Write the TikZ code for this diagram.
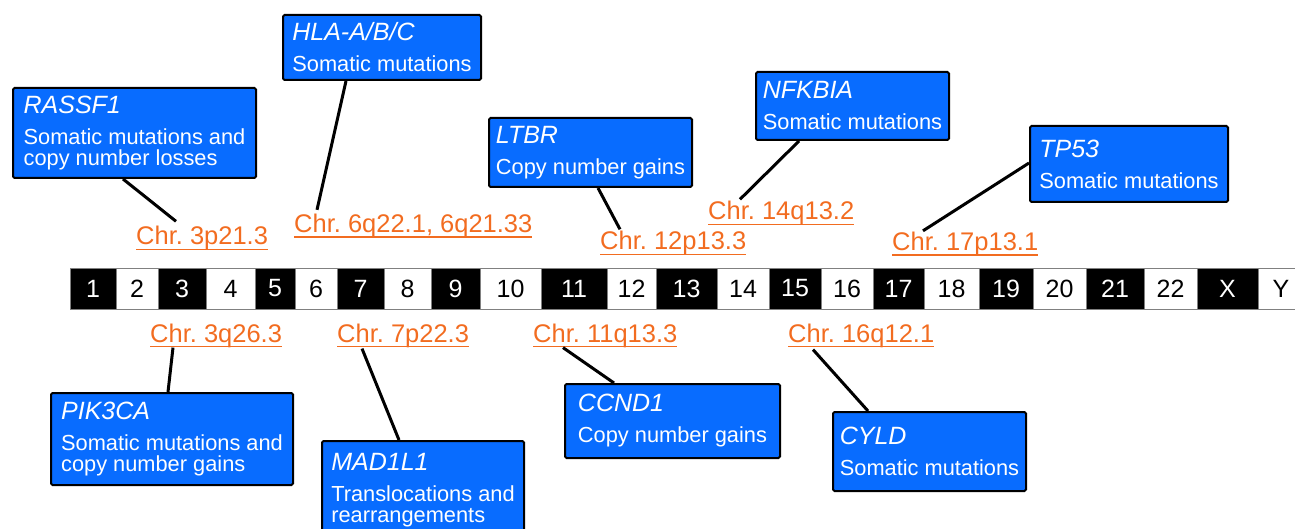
\documentclass[tikz,border=0pt]{standalone}
\usepackage{fontspec}
\setmainfont{Liberation Sans}
\usetikzlibrary{calc}

\definecolor{boxblue}{RGB}{8,108,255}
\definecolor{locorange}{RGB}{242,108,32}
\newcommand{\gene}[1]{{\fontsize{25}{20.7}\selectfont\itshape #1}}
\newsavebox{\ulocbox}
\newcommand{\uloc}[1]{\sbox{\ulocbox}{#1}\rlap{\rule[-5.4pt]{\wd\ulocbox}{1.8pt}}\usebox{\ulocbox}}

\begin{document}
\begin{tikzpicture}[x=1pt,y=-1pt,
  genebox/.style={draw=black,line width=2pt,rounded corners=1.5pt,fill=boxblue,text=white,
    anchor=north west,align=left,inner sep=0pt,font=\fontsize{21.8}{20.7}\selectfont},
  locus/.style={text=locorange,anchor=base west,inner sep=0pt,font=\fontsize{25.5}{30}\selectfont},
  band/.style={draw=gray,line width=0.8pt,minimum height=41pt,inner sep=0pt,font=\fontsize{25}{30}\selectfont},
  link/.style={line width=3pt}]
\useasboundingbox (0,0) rectangle (1295,529);

% chromosome bar
\foreach \l/\r/\lab/\bg/\fg in {70/116/1/black/white, 116/158/2/white/black, 158/206/3/black/white,
  206/255/4/white/black, 255/295/5/black/white, 295/337/6/white/black, 337/384/7/black/white,
  384/431/8/white/black, 431/480/9/black/white, 480/541/10/white/black, 541/607/11/black/white,
  607/656/12/white/black, 656/717/13/black/white, 717/769/14/white/black, 769/821/15/black/white,
  821/873/16/white/black, 873/924/17/black/white, 924/979/18/white/black, 979/1033/19/black/white,
  1033/1086/20/white/black, 1086/1144/21/black/white, 1144/1197/22/white/black,
  1197/1258/X/black/white, 1258/1304/Y/white/black} {
  \node[band,fill=\bg,text=\fg,minimum width={(\r-\l)*1pt}] (band\lab) at ({(\l+\r)/2},288.5) {\lab};
}

% loci above and below the bar
\node[locus] (c3p) at (136,245) {\uloc{Chr.\ 3p21.3}};
\node[locus] (c6q) at (294,232.5) {\uloc{Chr.\ 6q22.1, 6q21.33}};
\node[locus] (c12p) at (600,250) {\uloc{Chr.\ 12p13.3}};
\node[locus] (c14q) at (708,220) {\uloc{Chr.\ 14q13.2}};
\node[locus] (c17p) at (892,250.5) {\uloc{Chr.\ 17p13.1}};
\node[locus] (c3q) at (150,342) {\uloc{Chr.\ 3q26.3}};
\node[locus] (c7p) at (337,342) {\uloc{Chr.\ 7p22.3}};
\node[locus] (c11q) at (533,342) {\uloc{Chr.\ 11q13.3}};
\node[locus] (c16q) at (788,342) {\uloc{Chr.\ 16q12.1}};

% gene boxes
\node[genebox,minimum width=243pt,minimum height=90pt] (rassf1) at (12,87)
  {\gene{RASSF1}\\[10.3pt]Somatic mutations and\\copy number losses};
\node[genebox,minimum width=198pt,minimum height=65pt] (hla) at (282,14)
  {\gene{HLA-A/B/C}\\[10.3pt]Somatic mutations};
\node[genebox,minimum width=203pt,minimum height=69pt] (ltbr) at (488,117)
  {\gene{LTBR}\\[10.3pt]Copy number gains};
\node[genebox,minimum width=193pt,minimum height=68pt] (nfkbia) at (755,71)
  {\gene{NFKBIA}\\[10.3pt]Somatic mutations};
\node[genebox,minimum width=198pt,minimum height=76pt] (tp53) at (1029,125)
  {\gene{TP53}\\[10.3pt]Somatic mutations};
\node[genebox,minimum width=242pt,minimum height=92pt] (pik3ca) at (50,392)
  {\gene{PIK3CA}\\[10.3pt]Somatic mutations and\\copy number gains};
\node[genebox,minimum width=202pt,minimum height=99pt] (mad1l1) at (321,440)
  {\gene{MAD1L1}\\[10.3pt]Translocations and\\rearrangements};
\node[genebox,minimum width=215pt,minimum height=74pt] (ccnd1) at (564,383)
  {\gene{CCND1}\\[10.3pt]Copy number gains};
\node[genebox,minimum width=193pt,minimum height=79pt] (cyld) at (832,411)
  {\gene{CYLD}\\[10.3pt]Somatic mutations};

% connectors
\draw[link] ($(rassf1.south west)+(111,0)$) -- ($(c3p.north west)+(40,-5)$);
\draw[link] ($(hla.south west)+(64,0)$) -- ($(c6q.north west)+(23,-4)$);
\draw[link] ($(ltbr.south west)+(110,0)$) -- ($(c12p.north west)+(20,-2)$);
\draw[link] ($(nfkbia.south west)+(44,0)$) -- ($(c14q.north west)+(32,-2)$);
\draw[link] ($(tp53.north west)+(0,38)$) -- ($(c17p.north west)+(31,-1)$);
\draw[link] ($(c3q.south west)+(23,0)$) -- ($(pik3ca.north west)+(118,0)$);
\draw[link] ($(c7p.south west)+(25,1)$) -- ($(mad1l1.north west)+(78,0)$);
\draw[link] ($(c11q.south west)+(30,0)$) -- ($(ccnd1.north west)+(50,0)$);
\draw[link] ($(c16q.south west)+(25,2)$) -- ($(cyld.north west)+(36,0)$);
\end{tikzpicture}
\end{document}
